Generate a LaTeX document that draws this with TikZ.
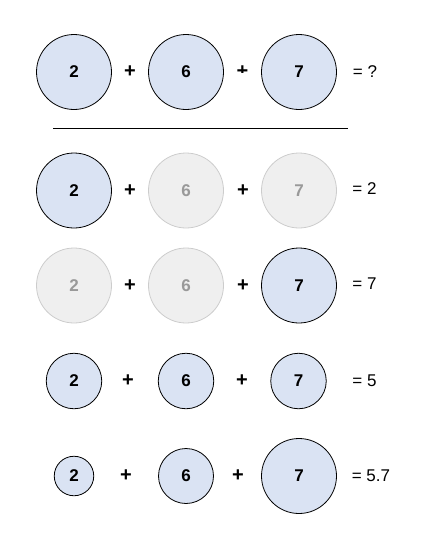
\documentclass[tikz,border=0pt]{standalone}
\usepackage{fontspec}
\setmainfont{Liberation Sans}
\usepackage{tikz}
\usetikzlibrary{positioning}
\definecolor{lblue}{HTML}{DAE3F3}
\definecolor{lgray}{HTML}{EFEFEF}
\definecolor{mgray}{HTML}{CCCCCC}
\definecolor{dgray}{HTML}{999999}
\tikzstyle{num} = [circle, draw=black, line width=0.8pt, fill=lblue, text=black, text centered, font=\fontsize{17}{20}\selectfont\bfseries, inner sep=0pt]
\tikzstyle{off} = [num, draw=mgray, fill=lgray, text=dgray]
\tikzstyle{op} = [draw=none, fill=none, text centered, font=\fontsize{20}{24}\selectfont\bfseries]
\tikzstyle{textonly} = [draw=none, fill=none, text centered, font=\fontsize{17}{20}\selectfont]
\tikzstyle{rule} = [draw, line width=0.8pt]

\begin{document}
\begin{tikzpicture}[auto, x=1pt, y=-1pt, on grid]
\useasboundingbox (0,0) rectangle (423,544);
%row 1
\node[num, minimum size=75pt] (a1) at (74,72) {2};
\node[op, right = 56pt of a1] (a1p) {+};
\node[num, minimum size=75pt, right = 56pt of a1p] (a2) {6};
\path (a2) ++(56.5pt,0pt) coordinate (a2q);
\begin{scope}
\clip ([shift={(-12pt,-0.4pt)}]a2q) rectangle ([shift={(12pt,16pt)}]a2q);
\node[op] (a2p) at (a2q) {+};
\end{scope}
\node[num, minimum size=75pt, right = 56.5pt of a2p] (a3) {7};
\node[textonly, right = 66pt of a3] (aeq) {= ?};

%rule
\coordinate (l1) at (53,128);
\coordinate (l2) at (348,128);
\path[rule] (l1) -- (l2);

%row 2
\node[num, minimum size=75pt] (b1) at (74,190.5) {2};
\node[op, right = 56pt of b1] (b1p) {+};
\node[off, minimum size=75pt, right = 56pt of b1p] (b2) {6};
\node[op, right = 57pt of b2] (b2p) {+};
\node[off, minimum size=75pt, right = 56pt of b2p] (b3) {7};
\node[textonly, right = 65.5pt of b3, yshift=1.5pt] (beq) {= 2};

%row 3
\node[off, minimum size=75pt] (c1) at (74,285.5) {2};
\node[op, right = 56pt of c1] (c1p) {+};
\node[off, minimum size=75pt, right = 56pt of c1p] (c2) {6};
\node[op, right = 57pt of c2] (c2p) {+};
\node[num, minimum size=75pt, right = 56pt of c2p] (c3) {7};
\node[textonly, right = 65.5pt of c3, yshift=1.5pt] (ceq) {= 7};

%row 4
\node[num, minimum size=55.5pt] (d1) at (74,381) {2};
\node[op, right = 54pt of d1] (d1p) {+};
\node[num, minimum size=55.5pt, right = 58pt of d1p] (d2) {6};
\node[op, right = 56pt of d2] (d2p) {+};
\node[num, minimum size=55.5pt, right = 56.5pt of d2p] (d3) {7};
\node[textonly, right = 66pt of d3] (deq) {= 5};

%row 5
\node[num, minimum size=39.5pt] (e1) at (74,476) {2};
\node[op, right = 52pt of e1] (e1p) {+};
\node[num, minimum size=55pt, right = 60pt of e1p] (e2) {6};
\node[op, right = 52pt of e2] (e2p) {+};
\node[num, minimum size=75pt, right = 61pt of e2p] (e3) {7};
\node[textonly, right = 72pt of e3] (eeq) {= 5.7};

\end{tikzpicture}
\end{document}
